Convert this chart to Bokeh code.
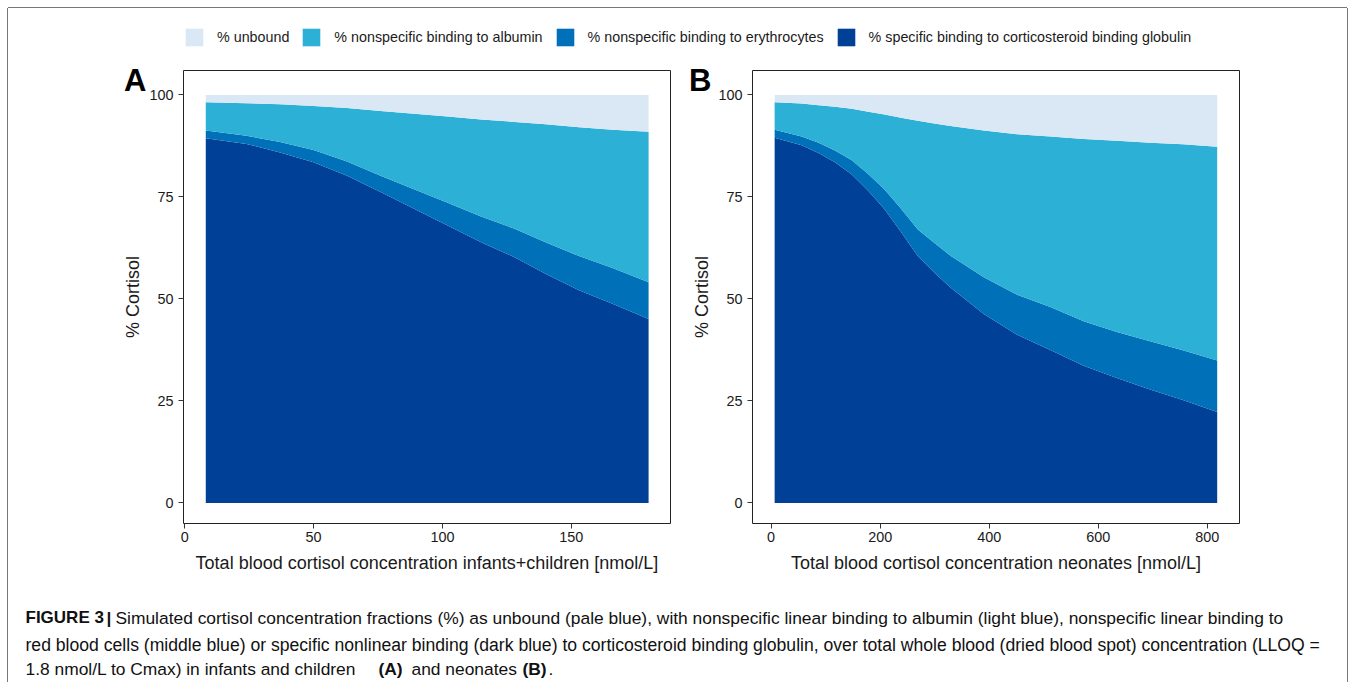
from bokeh.plotting import figure
from bokeh.models import ColumnDataSource, Range1d, Legend, LegendItem, LinearAxis, FixedTicker
from bokeh.layouts import column, row
from bokeh.embed import file_html
from bokeh.resources import INLINE
from bokeh.core.properties import value

FONT = "Liberation Sans"
TXT = "#1a1a1a"

# stacking order: bottom -> top
layer_keys = ["cbg", "rbc", "albumin", "unbound"]
legend_order = ["unbound", "albumin", "rbc", "cbg"]
layer_labels = {
    "unbound": "% unbound",
    "albumin": "% nonspecific binding to albumin",
    "rbc": "% nonspecific binding to erythrocytes",
    "cbg": "% specific binding to corticosteroid binding globulin",
}
layer_colors = {"unbound": "#DAE8F5", "albumin": "#2CB0D6", "rbc": "#0070B8", "cbg": "#004096"}

# Panel A: infants + children (x in nmol/L, values in %)
conc_A = [8.2, 24, 37, 50, 63, 76, 89, 102, 115, 128, 140, 153, 166, 180]
cbg_A = [89.4, 88.0, 85.9, 83.5, 80.2, 76.2, 72.1, 68.0, 63.9, 60.2, 56.2, 52.1, 48.8, 45.1]
rbc_A = [1.9, 2.0, 2.6, 3.0, 3.5, 4.0, 4.8, 5.6, 6.3, 7.0, 7.7, 8.4, 8.8, 9.0]
alb_A = [6.9, 8.0, 9.2, 10.8, 13.1, 15.9, 18.5, 21.1, 23.8, 26.2, 28.9, 31.6, 33.9, 36.9]
unb_A = [1.8, 2.0, 2.3, 2.7, 3.2, 3.9, 4.6, 5.3, 6.0, 6.6, 7.2, 7.9, 8.5, 9.0]

# Panel B: neonates
conc_B = [6.5, 56, 87, 117, 148, 178, 208, 238, 269, 299, 329, 390, 451, 512, 573, 634, 695, 755, 818]
cbg_B = [89.5, 87.7, 85.8, 83.5, 80.5, 76.5, 72.0, 66.5, 60.5, 56.5, 52.8, 46.3, 41.2, 37.5, 33.6, 30.6, 27.8, 25.2, 22.3]
rbc_B = [2.0, 2.1, 2.5, 2.9, 3.5, 4.1, 4.8, 5.7, 6.5, 7.3, 7.8, 9.0, 9.8, 10.5, 10.9, 11.3, 11.8, 12.2, 12.6]
alb_B = [6.7, 8.1, 9.2, 10.7, 12.6, 15.3, 18.4, 22.2, 26.7, 29.2, 31.8, 36.0, 39.4, 41.8, 44.7, 46.9, 48.7, 50.5, 52.4]
unb_B = [1.8, 2.1, 2.5, 2.9, 3.4, 4.1, 4.8, 5.6, 6.3, 7.0, 7.6, 8.7, 9.6, 10.2, 10.8, 11.2, 11.7, 12.1, 12.7]

y_ticks = [0, 25, 50, 75, 100]
x_ticks_A = [0, 50, 100, 150]
x_ticks_B = [0, 200, 400, 600, 800]
x_title_A = "Total blood cortisol concentration infants+children [nmol/L]"
x_title_B = "Total blood cortisol concentration neonates [nmol/L]"
y_title = "% Cortisol"
LETTER_Y = 105.7


def panel(x, cbg, rbc, alb, unb, xlim, xticks, xtitle, letter, letter_standoff, width, mbl, mbr):
    src = ColumnDataSource(dict(x=x, cbg=cbg, rbc=rbc, albumin=alb, unbound=unb))
    p = figure(width=width, height=522, x_range=Range1d(*xlim), y_range=Range1d(-5.05, 106),
               output_backend="svg", toolbar_location=None,
               min_border_left=mbl, min_border_right=mbr, min_border_top=12, min_border_bottom=57)
    p.varea_stack(stackers=layer_keys, x="x", source=src,
                  color=[layer_colors[k] for k in layer_keys])
    p.grid.visible = False
    p.outline_line_color = "#222222"
    p.outline_line_width = 1
    p.background_fill_color = "white"
    p.border_fill_color = "white"
    p.xaxis.ticker = xticks
    p.yaxis.ticker = y_ticks
    for ax in p.axis:
        ax.axis_line_color = None
        ax.minor_tick_line_color = None
        ax.major_tick_in = 0
        ax.major_tick_out = 5
        ax.major_tick_line_color = "#333333"
        ax.major_label_text_font = FONT
        ax.major_label_text_font_size = "14.4px"
        ax.major_label_text_color = TXT
        ax.axis_label_text_font = FONT
        ax.axis_label_text_font_size = "18px"
        ax.axis_label_text_font_style = "normal"
        ax.axis_label_text_color = TXT
    p.xaxis.axis_label = xtitle
    p.yaxis.axis_label = y_title
    p.xaxis.major_label_standoff = 3
    p.xaxis.axis_label_standoff = 8
    p.yaxis.major_label_standoff = 5
    p.yaxis.axis_label_standoff = 3
    # panel letter, drawn as the single label of an outer, line-less axis
    tag = LinearAxis(ticker=FixedTicker(ticks=[LETTER_Y]), major_label_overrides={LETTER_Y: letter},
                     axis_line_color=None, major_tick_line_color=None, minor_tick_line_color=None,
                     major_tick_in=0, major_tick_out=0, major_label_standoff=letter_standoff,
                     major_label_text_font=FONT, major_label_text_font_style="bold",
                     major_label_text_font_size="31px", major_label_text_color="black")
    p.add_layout(tag, "left")
    return p


pA = panel(conc_A, cbg_A, rbc_A, alb_A, unb_A, (-0.44, 188.5), x_ticks_A, x_title_A, "A", -26, 672, 175, 10)
pB = panel(conc_B, cbg_B, rbc_B, alb_B, unb_B, (-34.1, 858.9), x_ticks_B, x_title_B, "B", -22, 667, 72, 108)

# legend strip
lf = figure(width=1339, height=50, x_range=Range1d(0, 1339), y_range=Range1d(0, 50),
            x_axis_type=None, y_axis_type=None, min_border=0,
            output_backend="svg", toolbar_location=None)
lf.grid.visible = False
lf.outline_line_color = None
items = []
for k in legend_order:
    r = lf.varea(x=[-20, -10], y1=[0, 0], y2=[1, 1], fill_color=layer_colors[k])
    items.append(LegendItem(label=layer_labels[k], renderers=[r]))
leg = Legend(items=items, orientation="horizontal", location=(175, 10),
             glyph_width=22, glyph_height=22, label_standoff=12, spacing=11,
             padding=0, margin=0, border_line_color=None, background_fill_alpha=0,
             label_text_font=FONT, label_text_font_size="14.3px", label_text_color=TXT,
             label_height=22)
lf.add_layout(leg)

# caption strip (y grows downward, origin at strip top-left)
CAP_H = 102
cf = figure(width=1339, height=CAP_H, x_range=Range1d(0, 1339), y_range=Range1d(CAP_H, 0),
            x_axis_type=None, y_axis_type=None, min_border=0,
            output_backend="svg", toolbar_location=None)
cf.grid.visible = False
cf.outline_line_color = None

cap_size = "17.4px"
cap_bold = dict(text_font=value(FONT), text_font_style="bold", text_font_size=cap_size,
                text_color="#111111", text_baseline="middle", text_align="left")
cap_norm = dict(text_font=value(FONT), text_font_style="normal", text_font_size=cap_size,
                text_color="#111111", text_baseline="middle", text_align="left")
cf.text(x=[17], y=[37], text=["FIGURE 3"], **dict(cap_bold, text_font_size="17px"))
cf.text(x=[98], y=[37], text=["|"], **cap_bold)
cf.text(x=[107], y=[37], text=["Simulated cortisol concentration fractions (%) as unbound (pale blue), with nonspecific linear binding to albumin (light blue), nonspecific linear binding to"], **cap_norm)
cf.text(x=[17], y=[64], text=["red blood cells (middle blue) or specific nonlinear binding (dark blue) to corticosteroid binding globulin, over total whole blood (dried blood spot) concentration (LLOQ ="], **dict(cap_norm, text_font_size="17.6px"))
cf.text(x=[17], y=[88], text=["1.8 nmol/L to Cmax) in infants and children"], **cap_norm)
cf.text(x=[370], y=[88], text=["(A)"], **cap_bold)
cf.text(x=[403], y=[88], text=["and neonates"], **cap_norm)
cf.text(x=[514], y=[88], text=["(B)"], **cap_bold)
cf.text(x=[540], y=[88], text=["."], **cap_norm)

layout = column(lf, row(pA, pB), cf, margin=(8, 8, 0, 8),
                styles={"box-shadow": "-1px 0 0 0 #777777, 1px 0 0 0 #777777, 0 -1px 0 0 #777777"})

open("out.html", "w").write(file_html(layout, INLINE))
